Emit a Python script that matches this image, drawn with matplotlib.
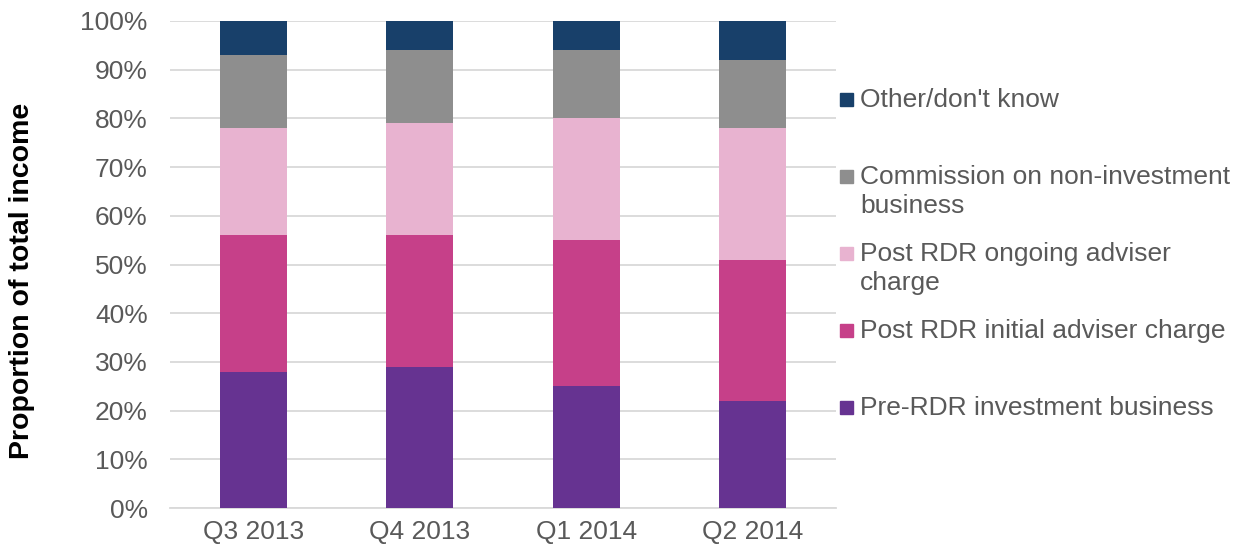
import matplotlib
matplotlib.use('Agg')
import matplotlib.pyplot as plt
from matplotlib.patches import Rectangle
import numpy as np

plt.rcParams['font.family'] = ['Liberation Sans', 'DejaVu Sans']

quarters = ['Q3 2013', 'Q4 2013', 'Q1 2014', 'Q2 2014']
pre_rdr = [28, 29, 25, 22]
initial_charge = [28, 27, 30, 29]
ongoing_charge = [22, 23, 25, 27]
commission = [15, 15, 14, 14]
other = [7, 6, 6, 8]

series = [
    ('Pre-RDR investment business', pre_rdr, '#663391'),
    ('Post RDR initial adviser charge', initial_charge, '#C64089'),
    ('Post RDR ongoing adviser\ncharge', ongoing_charge, '#E8B3D0'),
    ('Commission on non-investment\nbusiness', commission, '#8E8E8E'),
    ("Other/don't know", other, '#18406A'),
]

W, H = 1246, 556
fig = plt.figure(figsize=(W / 100, H / 100), dpi=100)
ax = fig.add_axes([170 / W, 1 - 508 / H, (836 - 170) / W, (508 - 21) / H])

x = np.arange(len(quarters))
bottom = np.zeros(len(quarters))
for name, vals, col in series:
    ax.bar(x, vals, bottom=bottom, width=0.4, color=col, zorder=3)
    bottom += np.array(vals)

ax.set_xlim(-0.5, len(quarters) - 0.5)
ax.set_ylim(0, 100)
ax.set_yticks(np.arange(0, 101, 10))
ax.set_yticklabels([f'{v}%' for v in range(0, 101, 10)])
ax.set_xticks(x)
ax.set_xticklabels(quarters)
ax.tick_params(axis='both', labelsize=19, colors='#595959', length=0)
ax.tick_params(axis='x', pad=9)
ax.tick_params(axis='y', pad=16)
ax.grid(axis='y', color='#D9D9D9', linewidth=1.3, zorder=0)
for s in ['top', 'right', 'left']:
    ax.spines[s].set_visible(False)
ax.spines['bottom'].set_color('#D9D9D9')
ax.spines['bottom'].set_linewidth(1.3)

fig.text(22 / W, 1 - 281 / H, 'Proportion of total income', rotation=90,
         ha='center', va='center', fontsize=20.5, fontweight='bold', color='black')

# legend, top entry first
for i, (name, vals, col) in enumerate(reversed(series)):
    yc = 99 + 77 * i
    fig.add_artist(Rectangle((840 / W, 1 - (yc + 7) / H), 13 / W, 13 / H,
                             transform=fig.transFigure, color=col))
    fig.text(860 / W, 1 - (yc - 11) / H, name, ha='left', va='top',
             fontsize=19, color='#595959', linespacing=1.28)

fig.savefig('out.png', dpi=100)
